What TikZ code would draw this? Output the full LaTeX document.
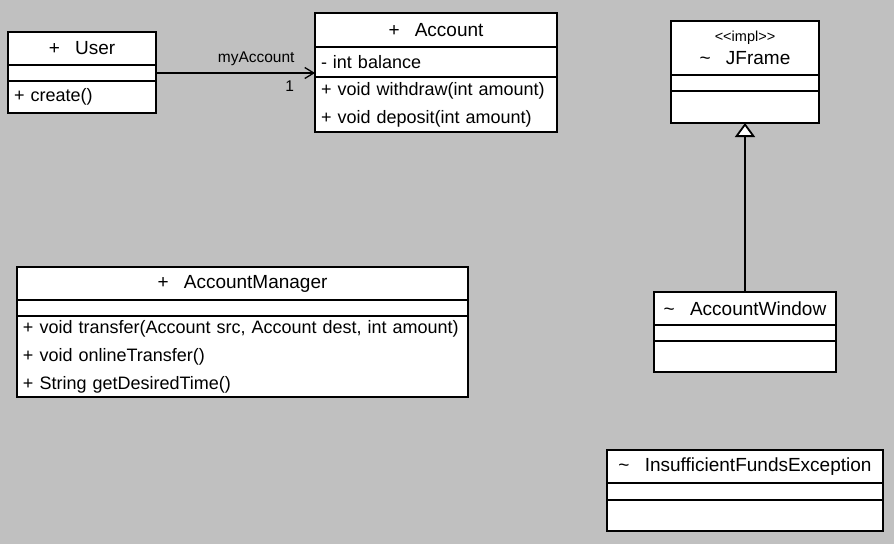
\documentclass[tikz,border=0pt]{standalone}
\usepackage{fontspec}
\setmainfont{Liberation Sans}
\usetikzlibrary{arrows.meta,positioning}
\definecolor{canvasgray}{RGB}{192,192,192}
\newcommand{\titlesize}{\fontsize{19}{23}\selectfont}
\newcommand{\membersize}{\fontsize{18}{28}\selectfont}
\newcommand{\notesize}{\fontsize{15.5}{18}\selectfont}
\newcommand{\stereosize}{\fontsize{14.5}{16}\selectfont}
\newcommand{\vis}[1]{#1\hspace{0.8em}}

\begin{document}
\begin{tikzpicture}[x=1pt,y=1pt,
   part/.style={draw,fill=white,line width=1.5pt,inner sep=0pt,outer sep=0pt},
   cname/.style 2 args={part,font=\titlesize,align=center,minimum width=#1,minimum height=#2},
   cpart/.style 2 args={part,font=\membersize,align=left,inner xsep=6pt,text width=#1,minimum height=#2},
   assoc/.style={line width=1.3pt,-{Straight Barb[length=9pt,width=11pt]}},
   inherit/.style={line width=1.8pt,-{Triangle[open,fill=white,length=14pt,width=20pt]}}]
  \fill[canvasgray] (0,0) rectangle (894,-544);
  % User
  \node[cname={148pt}{33pt},anchor=north west] (user) at (8,-32) {\vis{+}User};
  \node[cpart={136pt}{16pt},below=0pt of user] (useratt) {};
  \node[cpart={136pt}{32pt},below=0pt of useratt] (usermet) {+ create()};
  % Account
  \node[cname={242pt}{34pt},anchor=north west] (acc) at (315,-13) {\vis{+}Account};
  \node[cpart={230pt}{30pt},below=0pt of acc] (accatt) {- int balance};
  \node[cpart={230pt}{55pt},below=0pt of accatt] (accmet) {+ void withdraw(int amount)\\+ void deposit(int amount)};
  % JFrame
  \node[cname={148pt}{54pt},anchor=north west] (frame) at (671,-21)
       {{\stereosize <{}<impl>{}>}\\[0pt]\vis{\textasciitilde}JFrame};
  \node[cpart={136pt}{16pt},below=0pt of frame] (frameatt) {};
  \node[cpart={136pt}{32pt},below=0pt of frameatt] (framemet) {};
  % AccountWindow
  \node[cname={182pt}{33pt},anchor=north west] (win) at (654,-292) {\vis{\textasciitilde}AccountWindow};
  \node[cpart={170pt}{16pt},below=0pt of win] (winatt) {};
  \node[cpart={170pt}{31pt},below=0pt of winatt] (winmet) {};
  % AccountManager
  \node[cname={451pt}{33pt},anchor=north west] (mgr) at (17,-267) {\vis{+}AccountManager};
  \node[cpart={439pt}{16pt},below=0pt of mgr] (mgratt) {};
  \node[cpart={439pt}{81pt},below=0pt of mgratt] (mgrmet)
       {+ void transfer(Account src, Account dest, int amount)\\+ void onlineTransfer()\\+ String getDesiredTime()};
  % InsufficientFundsException
  \node[cname={276pt}{33pt},anchor=north west] (exc) at (607,-450) {\vis{\textasciitilde}InsufficientFundsException};
  \node[cpart={264pt}{17pt},below=0pt of exc] (excatt) {};
  \node[cpart={264pt}{31pt},below=0pt of excatt] (excmet) {};
  % relations
  \draw[assoc] (useratt.east) -- (useratt.east -| accatt.west)
       node[pos=0.63,above=3pt,font=\notesize] {myAccount}
       node[pos=0.84,below=4pt,font=\notesize] {1};
  \draw[inherit] (win.north) -- (framemet.south);
\end{tikzpicture}
\end{document}
